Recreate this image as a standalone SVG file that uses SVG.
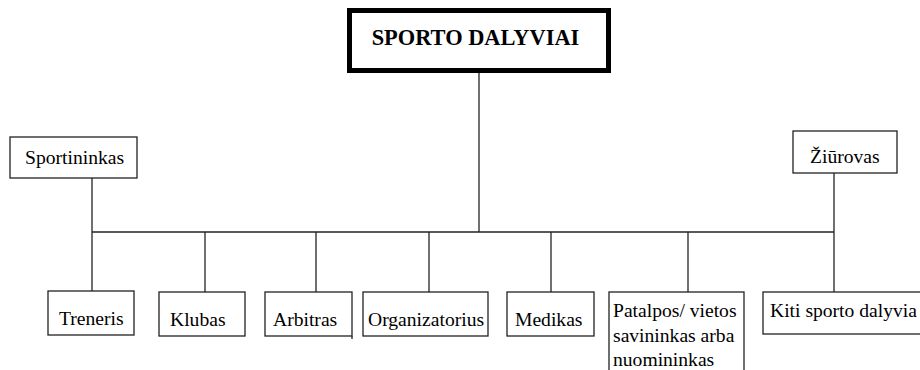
<svg xmlns="http://www.w3.org/2000/svg" width="920" height="370" viewBox="0 0 920 370">
<style>
.box{fill:#fff;stroke:#222;stroke-width:1.3}
.t{font-family:"Liberation Serif","Times New Roman",serif;font-size:19.6px;fill:#000}
.c{stroke:#222;stroke-width:1.3;fill:none}
</style>
<rect width="920" height="370" fill="#fff"/>
<g id="connectors">
<line class="c" x1="479" y1="72" x2="479" y2="232"/>
<line class="c" x1="92" y1="232" x2="834" y2="232"/>
<line class="c" x1="92" y1="178" x2="92" y2="291"/>
<line class="c" x1="834" y1="173" x2="834" y2="292"/>
<line class="c" x1="205" y1="232" x2="205" y2="292"/>
<line class="c" x1="316" y1="232" x2="316" y2="292"/>
<line class="c" x1="429" y1="232" x2="429" y2="292"/>
<line class="c" x1="551" y1="232" x2="551" y2="292"/>
<line class="c" x1="688" y1="232" x2="688" y2="292"/>
</g>
<g id="root">
<rect x="349.5" y="10.5" width="259" height="60" fill="#fff" stroke="#000" stroke-width="5"/>
<text x="475.5" y="45" text-anchor="middle" font-family="'Liberation Serif','Times New Roman',serif" font-size="22.4" font-weight="bold">SPORTO DALYVIAI</text>
</g>
<g id="sportininkas">
<rect class="box" x="10" y="137" width="127" height="41"/>
<text class="t" x="25" y="164">Sportininkas</text>
</g>
<g id="ziurovas">
<rect class="box" x="793" y="131" width="104" height="42"/>
<text class="t" x="810" y="163">Žiūrovas</text>
</g>
<g id="treneris">
<rect class="box" x="48" y="291" width="86" height="44"/>
<text class="t" x="59" y="325">Treneris</text>
</g>
<g id="klubas">
<rect class="box" x="159" y="292" width="86" height="44"/>
<text class="t" x="170" y="326">Klubas</text>
</g>
<g id="arbitras">
<rect class="box" x="265" y="292" width="87" height="44"/>
<line class="c" x1="352" y1="336" x2="352" y2="339"/>
<text class="t" x="273" y="326">Arbitras</text>
</g>
<g id="organizatorius">
<rect class="box" x="363" y="292" width="125" height="44"/>
<text class="t" x="368" y="326">Organizatorius</text>
</g>
<g id="medikas">
<rect class="box" x="507" y="292" width="87" height="44"/>
<text class="t" x="515" y="326">Medikas</text>
</g>
<g id="patalpos">
<rect class="box" x="609" y="292" width="135" height="90"/>
<text class="t" x="613" y="317">Patalpos/ vietos</text>
<text class="t" x="613" y="342">savininkas arba</text>
<text class="t" x="613" y="366">nuomininkas</text>
</g>
<g id="kiti">
<rect class="box" x="763" y="292" width="170" height="42"/>
<text class="t" x="770" y="317">Kiti sporto dalyvia</text>
</g>
</svg>
